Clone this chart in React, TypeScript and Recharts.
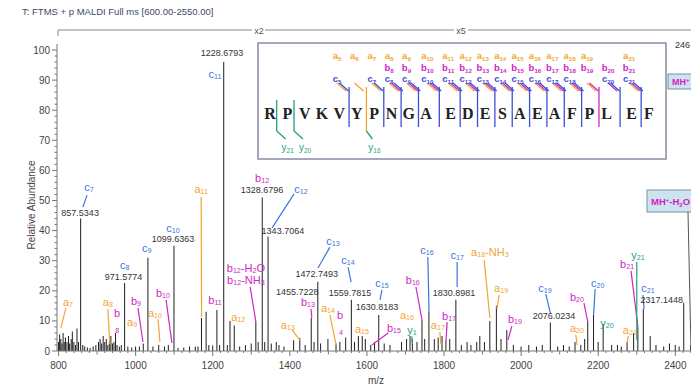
import React from 'react';
import { ComposedChart, Bar, XAxis, YAxis, ReferenceLine, ReferenceDot } from 'recharts';

const SANS = '"Liberation Sans", Arial, sans-serif';

// labelled / visible peaks (m/z, relative abundance)
const peakMz = [857.53, 971.58, 1032, 1099.64, 1171, 1183, 1211, 1228.68, 1245, 1256, 1312, 1328.68, 1343.71,
  1455.72, 1472.75, 1559.78, 1630.82, 1743, 1761, 1830.9, 1893, 1919, 1936, 1948, 1963, 2076.02, 2173, 2188,
  2213, 2303, 2317.14, 2335, 2422];
const peakAbund = [44, 22.6, 31, 35, 11, 13, 13.6, 96, 10, 8.5, 9.6, 51, 38,
  11, 23, 17, 12, 10.3, 13, 17, 5, 10, 15, 4, 7, 9.5, 9.7, 12,
  9, 8, 14, 5, 16];

// small baseline peaks
const noiseMz = [800, 803, 806, 809, 812, 815, 818, 822, 826, 829, 833, 836, 840, 844, 848, 852, 863, 868, 875, 882,
  890, 897, 904, 908, 912, 916, 920, 924, 928, 932, 936, 940, 944, 948, 952, 958, 963, 980, 990, 1000, 1010, 1020,
  1045, 1060, 1075, 1085, 1110, 1125, 1140, 1155, 1162, 1190, 1200, 1218, 1238, 1270, 1285, 1300, 1318, 1335, 1352,
  1365, 1372, 1385, 1410, 1426, 1440, 1463, 1480, 1499, 1520, 1530, 1545, 1568, 1578, 1588, 1596, 1610, 1620, 1645,
  1660, 1690, 1703, 1712, 1718, 1730, 1750, 1775, 1785, 1795, 1805, 1815, 1845, 1860, 1870, 1885, 1905, 1980, 2000,
  2020, 2040, 2055, 2095, 2110, 2125, 2140, 2155, 2165, 2200, 2235, 2250, 2260, 2275, 2292, 2350, 2370, 2385, 2400,
  2410, 2440, 2450];
const noiseAbund = [3, 5.5, 4, 2.5, 6, 3, 4.5, 3, 5, 2.5, 4, 6.5, 3, 2, 7.5, 3, 2, 1.5, 1.2, 1,
  1.5, 2, 3, 4, 2.5, 5, 3, 4, 2, 3.5, 5, 2.5, 3, 6, 2, 1.5, 2, 1.5, 1.2, 1.5, 1.5, 2.5,
  1.5, 2, 1.5, 2, 1, 1.2, 1.5, 1.5, 1.5, 2, 1.8, 2, 2, 1.5, 2, 2.5, 3, 3, 2.5,
  3, 2, 1.5, 3.6, 4.3, 2, 3, 2.5, 4, 2.5, 3, 4.5, 3, 5, 5, 4, 2, 3, 2.5,
  2, 3, 4, 5, 4, 3, 4, 4, 4.5, 5, 3.5, 4, 2, 3, 2, 3, 3, 2, 1.5,
  2, 1.5, 2, 1.5, 2, 1.5, 3, 2, 4, 3, 2, 2, 1.5, 3, 6, 2, 1.5, 2.5, 2,
  1.5, 2, 3];

const xTicks = Array.from({ length: 84 }, (_, i) => 800 + i * 20);
const yTicks = Array.from({ length: 51 }, (_, i) => i * 2);

const COL = { a: '#f2a533', b: '#cf27c6', c: '#3a76db', y: '#1fa37c' };
type Kind = keyof typeof COL;
type Part = [string, number];

const ion = (k: string, n: string, rest: Part[] = []): Part[] => [[k, 0], [n, 1], ...rest];

interface Tag { parts: Part[]; kind: Kind; at: [number, number]; leader?: [number, number, number, number] }

const ionTags: Tag[] = [
  { parts: ion('c', '7'), kind: 'c', at: [879, 54.5], leader: [874, 51.8, 863, 47.8] },
  { parts: ion('c', '8'), kind: 'c', at: [972, 28.6] },
  { parts: ion('c', '9'), kind: 'c', at: [1029, 34.2] },
  { parts: ion('c', '10'), kind: 'c', at: [1097, 40.9] },
  { parts: ion('a', '11'), kind: 'a', at: [1170, 53.8], leader: [1170, 51.2, 1171, 11.3] },
  { parts: ion('c', '11'), kind: 'c', at: [1206, 92] },
  { parts: ion('b', '11'), kind: 'b', at: [1206, 17] },
  { parts: ion('b', '12'), kind: 'b', at: [1328, 57.5] },
  { parts: ion('c', '12'), kind: 'c', at: [1429, 53.8], leader: [1411, 52.2, 1354, 40.9] },
  { parts: ion('b', '12', [['-H', 0], ['2', 1], ['O', 0]]), kind: 'b', at: [1286, 27.6] },
  { parts: ion('b', '12', [['-NH', 0], ['3', 1]]), kind: 'b', at: [1286, 23.6], leader: [1297, 21.3, 1312, 9.6] },
  { parts: ion('a', '12'), kind: 'a', at: [1266, 11.3] },
  { parts: ion('a', '7'), kind: 'a', at: [824.5, 16.3], leader: [819, 14.3, 806, 7.6] },
  { parts: ion('a', '8'), kind: 'a', at: [928, 16.3], leader: [928, 14, 933, 2.3] },
  { parts: [['b', 0]], kind: 'b', at: [952, 12.6] },
  { parts: [['8', 1]], kind: 'b', at: [952, 7.6] },
  { parts: ion('b', '9'), kind: 'b', at: [1001, 16.6], leader: [1006, 14.3, 1019, 3] },
  { parts: ion('a', '9'), kind: 'a', at: [991, 9.6] },
  { parts: ion('a', '10'), kind: 'a', at: [1050, 12.6], leader: [1058, 10.6, 1063, 3] },
  { parts: ion('b', '10'), kind: 'b', at: [1071, 19.3], leader: [1079, 17, 1094, 2.7] },
  { parts: ion('a', '13'), kind: 'a', at: [1395, 8.6], leader: [1406, 7, 1426, 3.6] },
  { parts: ion('b', '13'), kind: 'b', at: [1447, 16.3], leader: [1455, 14, 1457, 11] },
  { parts: ion('a', '14'), kind: 'a', at: [1499, 14.3], leader: [1504, 12, 1520, 2] },
  { parts: ion('c', '13'), kind: 'c', at: [1512, 36.5], leader: [1504, 34.5, 1473, 27.6] },
  { parts: ion('c', '14'), kind: 'c', at: [1551, 30.2], leader: [1551, 27.9, 1559, 22.9] },
  { parts: [['b', 0]], kind: 'b', at: [1530, 12] },
  { parts: [['4', 1]], kind: 'b', at: [1533, 7] },
  { parts: ion('a', '15'), kind: 'a', at: [1587, 7.3] },
  { parts: ion('c', '15'), kind: 'c', at: [1639, 22.6], leader: [1639, 20.3, 1634, 17] },
  { parts: ion('b', '15'), kind: 'b', at: [1670, 7.6], leader: [1655, 6, 1613, 2] },
  { parts: ion('a', '16'), kind: 'a', at: [1704, 12] },
  { parts: ion('y', '1'), kind: 'y', at: [1717, 7], leader: [1716, 4.8, 1718, 2.3] },
  { parts: ion('b', '16'), kind: 'b', at: [1719, 23.6], leader: [1727, 21.3, 1743, 10.3] },
  { parts: ion('c', '16'), kind: 'c', at: [1756, 33.5], leader: [1758, 31.2, 1761, 13] },
  { parts: ion('c', '17'), kind: 'c', at: [1834, 31.9], leader: [1834, 29.6, 1834, 21.3] },
  { parts: ion('b', '17'), kind: 'b', at: [1813, 11.6], leader: [1808, 9.6, 1805, 3.3] },
  { parts: ion('a', '17'), kind: 'a', at: [1784, 8.6], leader: [1789, 6.3, 1792, 2.3] },
  { parts: ion('a', '18', [['-NH', 0], ['3', 1]]), kind: 'a', at: [1919, 32.9], leader: [1904, 30.2, 1919, 11] },
  { parts: ion('a', '19'), kind: 'a', at: [1948, 20.9], leader: [1943, 18.6, 1937, 14] },
  { parts: ion('b', '19'), kind: 'b', at: [1984, 10.6], leader: [1976, 8.3, 1966, 3.7] },
  { parts: ion('c', '19'), kind: 'c', at: [2062, 20.9], leader: [2064, 18.9, 2076, 12.5] },
  { parts: ion('b', '20'), kind: 'b', at: [2145, 17.9], leader: [2163, 15.9, 2173, 9.6] },
  { parts: ion('a', '20'), kind: 'a', at: [2145, 7.6], leader: [2142, 5.3, 2145, 2] },
  { parts: ion('c', '20'), kind: 'c', at: [2199, 22.6], leader: [2192, 20.6, 2188, 12] },
  { parts: ion('y', '20'), kind: 'y', at: [2223, 9.3] },
  { parts: ion('b', '21'), kind: 'b', at: [2275, 28.9], leader: [2285, 26.6, 2303, 8] },
  { parts: ion('y', '21'), kind: 'y', at: [2303, 31.9], leader: [2300, 29.6, 2300, 3.6] },
  { parts: ion('c', '21'), kind: 'c', at: [2329, 20.9], leader: [2316, 18.6, 2319, 14] },
  { parts: ion('a', '21'), kind: 'a', at: [2282, 7], leader: [2278, 5, 2275, 2.6] },
];

const massTags: { text: string; at: [number, number] }[] = [
  { text: '857.5343', at: [856, 45.8] },
  { text: '971.5774', at: [968.5, 24.6] },
  { text: '1099.6363', at: [1097, 37.2] },
  { text: '1228.6793', at: [1224, 99] },
  { text: '1328.6796', at: [1328, 53.5] },
  { text: '1343.7064', at: [1382, 39.9] },
  { text: '1455.7228', at: [1419, 19.6] },
  { text: '1472.7493', at: [1470, 25.6] },
  { text: '1559.7815', at: [1556, 19.3] },
  { text: '1630.8183', at: [1626, 14.6] },
  { text: '1830.8981', at: [1826, 19.3] },
  { text: '2076.0234', at: [2085, 11.6] },
  { text: '2317.1448', at: [2365, 16.9] },
];

// peptide map in the inset
const sequence = 'RPVKVYPNGAEDESAEAFPLEF'.split('');
const aSites = [5, 6, 7, 8, 9, 10, 11, 12, 13, 14, 15, 16, 17, 18, 19, 21];
const bSites = [8, 9, 10, 11, 12, 13, 14, 15, 16, 17, 18, 19, 20, 21];
const cSites = [5, 7, 8, 9, 10, 11, 12, 13, 14, 15, 16, 17, 18, 20, 21];
const ySites: [number, number][] = [[1, 21], [2, 20], [6, 16]];

function IonText({ cx, cy, parts, color, size = 11, bold = false }: { cx: number; cy: number; parts: Part[]; color: string; size?: number; bold?: boolean }) {
  let lvl = 0;
  return (
    <text x={cx} y={cy} textAnchor="middle" dominantBaseline="central" fontFamily={SANS} fontSize={size}
      fontWeight={bold ? 'bold' : 'normal'} fill={color}>
      {parts.map(([t, sub], i) => {
        const dy = sub && !lvl ? size * 0.3 : !sub && lvl ? -size * 0.3 : 0;
        lvl = sub;
        return <tspan key={i} dy={dy} fontSize={sub ? size * 0.65 : size}>{t}</tspan>;
      })}
    </text>
  );
}

function XTick({ x, y, payload }: any) {
  const v = payload.value;
  const major = v % 200 === 0;
  const len = major ? 5 : v % 100 === 0 ? 3.5 : 2;
  return (
    <g>
      <line x1={x} x2={x} y1={y} y2={y + len} stroke="#777" />
      {major && <text x={x} y={y + 14} textAnchor="middle" dominantBaseline="central" fontFamily={SANS} fontSize={10} fill="#444">{v}</text>}
    </g>
  );
}

function YTick({ x, y, payload }: any) {
  const v = payload.value;
  const major = v % 10 === 0;
  return (
    <g>
      <line x1={x} x2={x - (major ? 5 : 2.5)} y1={y} y2={y} stroke="#777" />
      {major && <text x={x - 7} y={y} textAnchor="end" dominantBaseline="central" fontFamily={SANS} fontSize={10} fill="#444">{v}</text>}
    </g>
  );
}

const letterX = (i: number) => 270 + i * 17.35 + (i >= 10 ? 7 : 0) + (i >= 20 ? 7.5 : 0);
const siteX = (n: number) => (letterX(n - 1) + letterX(n)) / 2;
const INSET_C = '#3d4fd6';

function Inset() {
  const sites = Array.from(new Set([...aSites, ...bSites, ...cSites])).sort((p, q) => p - q);
  const rowY: Record<string, number> = { a: 55, b: 67, c: 78 };
  return (
    <g>
      <rect x={258} y={43} width={408} height={116} fill="#fff" stroke="#8a8aa6" strokeWidth={1.5} />
      {sites.map((n) => {
        const sx = siteX(n);
        const kinds = (['a', 'b', 'c'] as Kind[]).filter((k) =>
          (k === 'a' ? aSites : k === 'b' ? bSites : cSites).includes(n));
        const last = kinds[kinds.length - 1];
        return (
          <g key={n}>
            {kinds.map((k, j) => (
              <g key={k}>
                <IonText cx={sx - 11} cy={rowY[k]} parts={ion(k, String(n))} color={k === 'c' ? INSET_C : COL[k]} size={9.5} bold />
                <line x1={sx - 11 + j * 2.4} y1={83} x2={sx - 2 + j * 2.4} y2={91} stroke={k === 'c' ? INSET_C : COL[k]} strokeWidth={1.3} />
              </g>
            ))}
            <line x1={sx + 1} x2={sx + 1} y1={87} y2={127} stroke={last === 'c' ? INSET_C : COL[last]} strokeWidth={1.3} />
          </g>
        );
      })}
      {ySites.map(([n, yi]) => {
        const sx = siteX(n) - 2;
        return (
          <g key={n}>
            {n !== 6 && <line x1={sx} x2={sx} y1={100} y2={131} stroke={COL.y} strokeWidth={1.3} />}
            {n === 6 && <line x1={sx + 3} x2={sx + 3} y1={127} y2={131} stroke={COL.a} strokeWidth={1.3} />}
            <line x1={n === 6 ? sx + 3 : sx} y1={131} x2={sx + 9} y2={139} stroke={COL.y} strokeWidth={1.3} />
            <IonText cx={sx + 11} cy={147} parts={ion('y', String(yi))} color={COL.y} size={10} />
          </g>
        );
      })}
      {sequence.map((s, i) => (
        <text key={i} x={letterX(i)} y={113} textAnchor="middle" dominantBaseline="central"
          fontFamily='"Liberation Serif", "DejaVu Serif", serif' fontWeight="bold" fontSize={16} fill="#222">{s}</text>
      ))}
    </g>
  );
}

function Overlay() {
  return (
    <svg width={691} height={392} style={{ position: 'absolute', left: 0, top: 0, pointerEvents: 'none' }}>
      <text x={22} y={15} fontFamily={SANS} fontSize={9.5} fill="#3d4a66">T: FTMS + p MALDI Full ms [600.00-2550.00]</text>
      <g stroke="#888" strokeWidth={1}>
        <line x1={58} x2={252} y1={30} y2={30} />
        <line x1={265} x2={454} y1={30} y2={30} />
        <line x1={468} x2={691} y1={30} y2={30} />
        <line x1={58} x2={58} y1={30} y2={36} />
      </g>
      <text x={259} y={31} textAnchor="middle" dominantBaseline="central" fontFamily={SANS} fontSize={9} fill="#555">x2</text>
      <text x={461} y={31} textAnchor="middle" dominantBaseline="central" fontFamily={SANS} fontSize={9} fill="#555">x5</text>
      <text x={675} y={48} fontFamily={SANS} fontSize={9} fill="#333">246</text>
      <Inset />
      <rect x={668} y={74} width={40} height={15} fill="#cde3f0" stroke="#7890a0" />
      <text x={672} y={85} fontFamily={SANS} fontSize={9} fontWeight="bold" fill="#d21cc4">MH<tspan dy={-3} fontSize={6}>+</tspan></text>
      <rect x={647} y={190} width={60} height={22} fill="#cde3f0" stroke="#7890a0" />
      <text x={651} y={205} fontFamily={SANS} fontSize={9.5} fontWeight="bold" fill="#d21cc4">
        MH<tspan dy={-3} fontSize={6}>+</tspan><tspan dy={3}>-H</tspan><tspan dy={2} fontSize={6}>2</tspan><tspan dy={-2}>O</tspan>
      </text>
      <line x1={688} y1={212} x2={691} y2={350} stroke="#555" />
      <text x={31} y={205} transform="rotate(-90 31 205)" textAnchor="middle" dominantBaseline="central" fontFamily={SANS} fontSize={10} fill="#444">Relative Abundance</text>
      <text x={376} y={380} textAnchor="middle" dominantBaseline="central" fontFamily={SANS} fontSize={10} fill="#444">m/z</text>
    </svg>
  );
}

export default function App() {
  const data = [
    ...peakMz.map((mz, i) => ({ mz, abund: peakAbund[i] })),
    ...noiseMz.map((mz, i) => ({ mz, abund: noiseAbund[i] })),
  ].sort((p, q) => p.mz - q.mz);

  return (
    <div style={{ position: 'relative', width: 691, height: 392, overflow: 'hidden', background: '#fff' }}>
      <style>{'body{margin:0}'}</style>
      <ComposedChart width={700} height={392} data={data} margin={{ top: 44, right: 0, bottom: 0, left: 0 }}>
        <XAxis dataKey="mz" type="number" domain={[796, 2464]} allowDataOverflow ticks={xTicks} interval={0}
          tickSize={0} tickMargin={0} tickLine={false} tick={(p: any) => <XTick {...p} />} height={41} stroke="#777" />
        <YAxis type="number" domain={[0, 102]} allowDataOverflow ticks={yTicks} interval={0}
          tickSize={0} tickMargin={0} tickLine={false} tick={(p: any) => <YTick {...p} />} width={57} stroke="#777" />
        <Bar dataKey="abund" barSize={1} fill="#1f1f1f" isAnimationActive={false} />
        {ionTags.filter((t) => t.leader).map((t, i) => {
          const [x1, y1, x2, y2] = t.leader!;
          return <ReferenceLine key={'l' + i} segment={[{ x: x1, y: y1 }, { x: x2, y: y2 }]} stroke={COL[t.kind]} strokeWidth={1.2} ifOverflow="visible" />;
        })}
        {massTags.map((m, i) => (
          <ReferenceDot key={'m' + i} x={m.at[0]} y={m.at[1]} r={0} ifOverflow="visible"
            shape={(p: any) => <text x={p.cx} y={p.cy} textAnchor="middle" dominantBaseline="central" fontFamily={SANS} fontSize={9} fill="#333">{m.text}</text>} />
        ))}
        {ionTags.map((t, i) => (
          <ReferenceDot key={'t' + i} x={t.at[0]} y={t.at[1]} r={0} ifOverflow="visible"
            shape={(p: any) => <IonText cx={p.cx} cy={p.cy} parts={t.parts} color={COL[t.kind]} />} />
        ))}
      </ComposedChart>
      <Overlay />
    </div>
  );
}
